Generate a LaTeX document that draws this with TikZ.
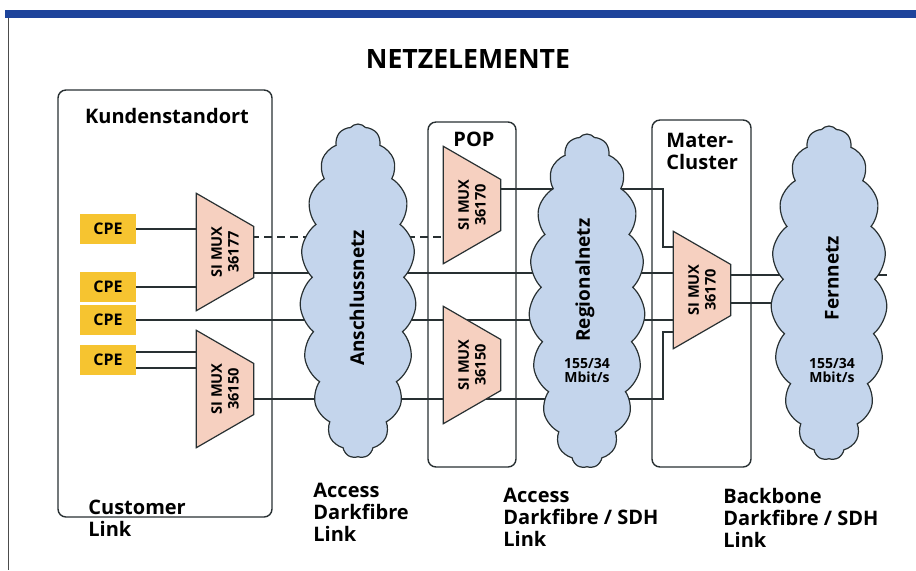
\documentclass[tikz,border=0pt]{standalone}
\usepackage{fontspec}
\setmainfont{Open Sans}
\usetikzlibrary{calc,shapes.geometric,shapes.symbols}
\pgfdeclarelayer{bg}
\pgfsetlayers{bg,main}
\definecolor{barblue}{RGB}{30,68,155}
\definecolor{cpeyellow}{RGB}{246,196,48}
\definecolor{muxpink}{RGB}{246,208,192}
\definecolor{cloudblue}{RGB}{196,213,236}
\definecolor{linegray}{RGB}{40,48,50}

\begin{document}
\begin{tikzpicture}[x=0.5pt, y=-0.5pt,
	every node/.style={font=\bfseries},
	site/.style={draw=linegray, line width=0.7pt, rounded corners=4pt},
	cpe/.style={fill=cpeyellow, minimum width=28pt, minimum height=15pt, inner sep=0pt, font=\fontsize{8}{9}\selectfont\bfseries},
	mux/.style={trapezium, trapezium left angle=120, trapezium right angle=120, trapezium stretches body, draw=linegray, line width=0.6pt, fill=muxpink, minimum width=56pt, inner xsep=0pt, inner ysep=7.5pt, rotate=90, align=center, font=\fontsize{7.3}{8.3}\selectfont\bfseries},
	net/.style={cloud, cloud puffs=19, cloud puff arc=100, cloud ignores aspect, draw=linegray, line width=0.6pt, fill=cloudblue, minimum width=58pt, minimum height=167pt, inner sep=0pt},
	link/.style={draw=linegray, line width=0.75pt},
	caption/.style={anchor=north west, inner sep=0pt, align=left, font=\fontsize{10}{11}\selectfont\bfseries},
	netname/.style={rotate=90, inner sep=0pt, font=\fontsize{9.5}{10}\selectfont\bfseries},
	rate/.style={align=center, inner sep=0pt, font=\fontsize{7}{7}\selectfont\bfseries}]
	\useasboundingbox (0,0) rectangle (916,570);
	\fill[barblue] (5,10) rectangle (916,18);
	\draw[black!70, line width=0.5pt] (8,18) -- (8,570);
	\node[anchor=north, inner sep=0pt, font=\fontsize{13.3}{14}\selectfont\bfseries] (title) at (468,49) {NETZELEMENTE};

	\node[cpe] (cpe1) at (108,229) {CPE};
	\node[cpe] (cpe2) at (108,287) {CPE};
	\node[cpe] (cpe3) at (108,320) {CPE};
	\node[cpe] (cpe4) at (108,360) {CPE};
	\node[mux] (muxA) at (225,252) {SI MUX\\36177};
	\node[mux] (muxB) at (225,389) {SI MUX\\36150};
	\node[mux] (popA) at (472,205) {SI MUX\\36170};
	\node[mux] (popB) at (472,365) {SI MUX\\36150};
	\node[mux] (clusterMux) at (702,290) {SI MUX\\36170};
	\node[net] (access) at (358,291) {};
	\node[net] (regional) at (587,301) {};
	\node[net] (fern) at (829,293) {};
	\node[netname] (accessName) at (357,298) {Anschlussnetz};
	\node[netname] (regionalName) at (585,280) {Regionalnetz};
	\node[netname] (fernName) at (832,278) {Fernnetz};
	\node[rate] (regionalRate) at (587,370) {155/34\\Mbit/s};
	\node[rate] (fernRate) at (832,370) {155/34\\Mbit/s};

	\node[anchor=north, inner sep=0pt, font=\fontsize{10}{11}\selectfont\bfseries] (kundeLabel) at (167,108) {Kundenstandort};
	\node[anchor=north, inner sep=0pt, font=\fontsize{10}{11}\selectfont\bfseries] (popLabel) at (474,132) {POP};
	\node[caption] (clusterLabel) at (666,133) {Mater-\\Cluster};
	\node[caption] (customerLink) at (88,500) {Customer\\Link};
	\node[caption] (accessLink) at (313,483) {Access\\Darkfibre\\Link};
	\node[caption] (regionalLink) at (503,488) {Access\\Darkfibre / SDH\\Link};
	\node[caption] (backboneLink) at (723,488) {Backbone\\Darkfibre / SDH\\Link};

	\begin{pgfonlayer}{bg}
	\draw[site] (58,90) rectangle (272,517);
	\draw[site] (428,122) rectangle (516,467);
	\draw[site] (652,120) rectangle (751,467);
	\draw[link] (cpe1) -- (cpe1 -| muxA);
	\draw[link] (cpe2) -- (cpe2 -| muxA);
	\draw[link] ($(cpe4)+(0,-8)$) -- ($(cpe4 -| muxB)+(0,-8)$);
	\draw[link] ($(cpe4)+(0,8)$) -- ($(cpe4 -| muxB)+(0,8)$);
	\draw[link, dash pattern=on 4pt off 2.5pt] ($(muxA)+(0,-15)$) -- ($(popA)+(0,32)$);
	\draw[link] ($(muxA)+(0,21)$) -- ($(clusterMux)+(0,-17)$);
	\draw[link] (cpe3) -- (cpe3 -| clusterMux);
	\draw[link] ($(muxB)+(0,10)$) -| ($(clusterMux)+(-39,42)$) -- ($(clusterMux)+(-10,42)$);
	\draw[link] ($(popA)+(0,-16)$) -| ($(clusterMux)+(-39,-43)$) -- ($(clusterMux)+(-10,-43)$);
	\draw[link] ($(clusterMux)+(0,-15)$) -- ($(fern)+(58,-18)$);
	\draw[link] ($(clusterMux)+(0,13)$) -- ($(fern)+(58,10)$);
	\end{pgfonlayer}
\end{tikzpicture}
\end{document}
